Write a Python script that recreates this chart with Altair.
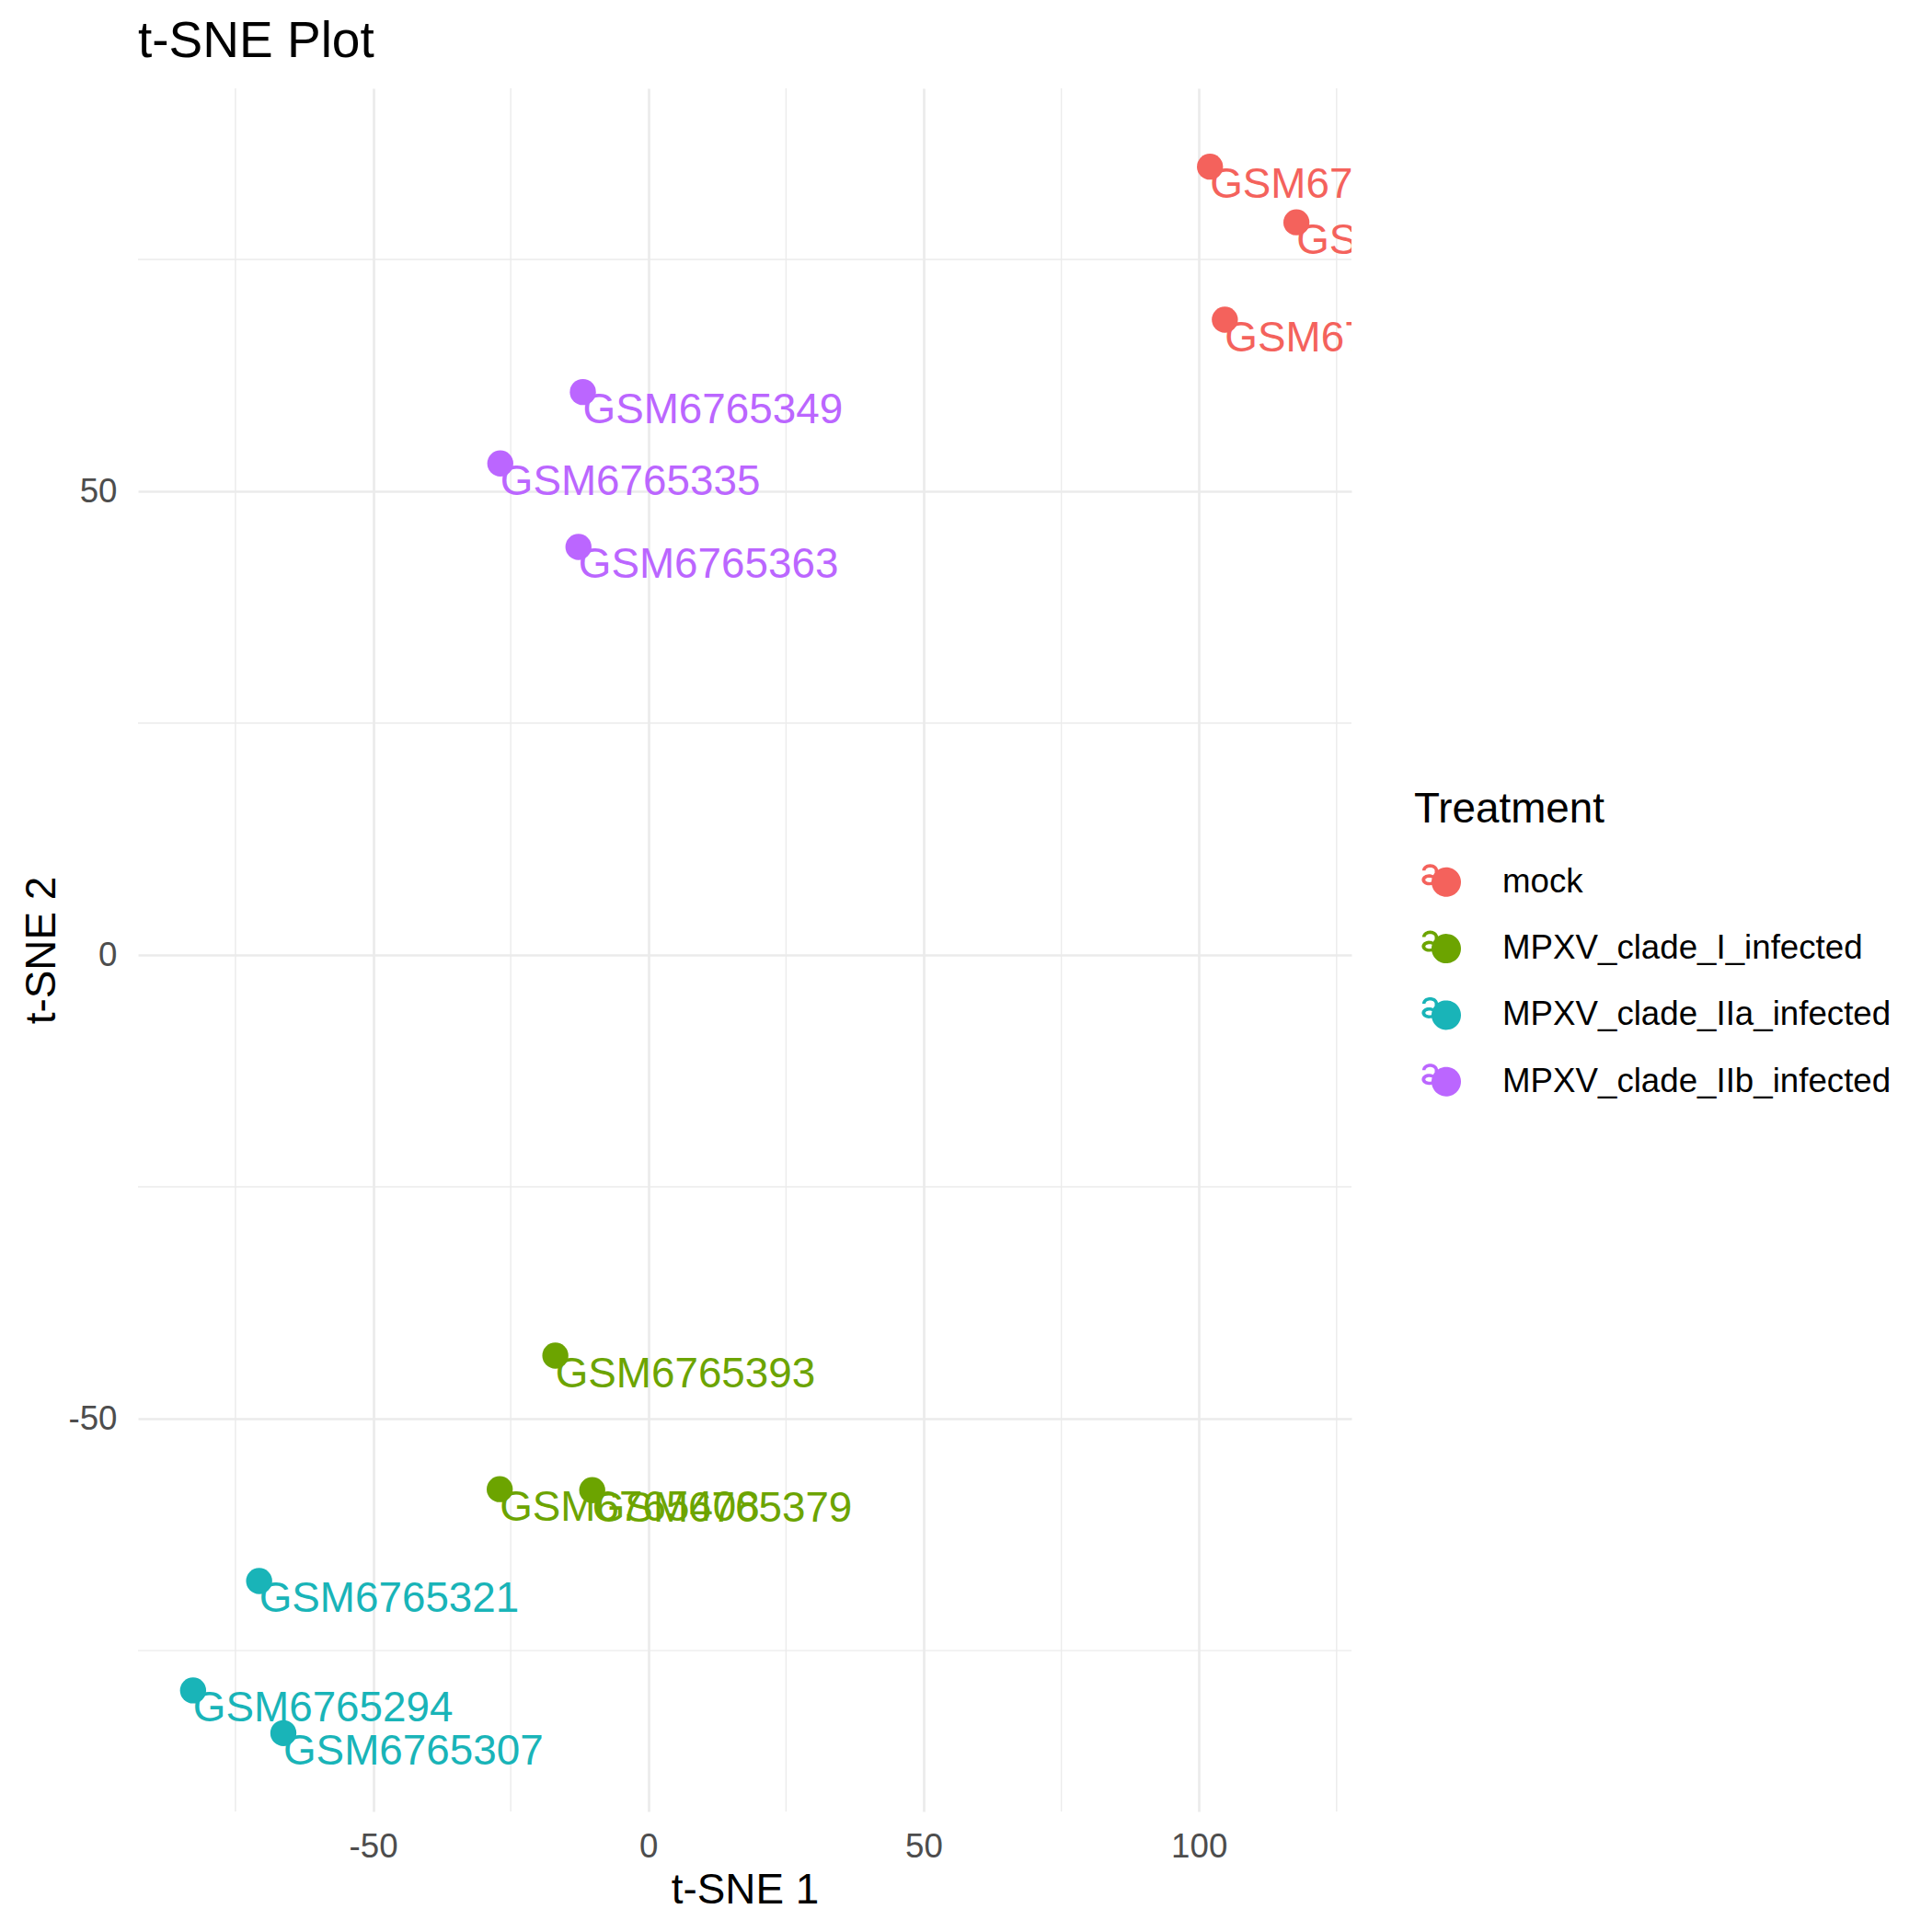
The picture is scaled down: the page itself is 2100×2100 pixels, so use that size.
import altair as alt
import numpy as np
import pandas as pd

# ---------------- data ----------------
samples = ["GSM6765421", "GSM6765435", "GSM6765449",
           "GSM6765349", "GSM6765335", "GSM6765363",
           "GSM6765393", "GSM6765408", "GSM6765379",
           "GSM6765321", "GSM6765294", "GSM6765307"]
treatment = ["mock", "mock", "mock",
             "MPXV_clade_IIb_infected", "MPXV_clade_IIb_infected", "MPXV_clade_IIb_infected",
             "MPXV_clade_I_infected", "MPXV_clade_I_infected", "MPXV_clade_I_infected",
             "MPXV_clade_IIa_infected", "MPXV_clade_IIa_infected", "MPXV_clade_IIa_infected"]
tsne1 = [102.0, 117.7, 104.7,
         -11.9, -26.9, -12.7,
         -16.9, -27.0, -10.2,
         -70.7, -82.7, -66.3]
tsne2 = [85.0, 79.0, 68.5,
         60.7, 53.0, 44.0,
         -43.2, -57.6, -57.7,
         -67.5, -79.3, -83.9]

categories = ["mock", "MPXV_clade_I_infected", "MPXV_clade_IIa_infected", "MPXV_clade_IIb_infected"]
colors = ["#F4625C", "#6CA400", "#19B4B8", "#BB66FF"]

x_major = [-50, 0, 50, 100]
y_major = [-50, 0, 50]
x_minor = [-75, -25, 25, 75, 125]
y_minor = [-75, -25, 25, 75]

df = pd.DataFrame({"sample": samples, "Treatment": treatment, "t1": tsne1, "t2": tsne2})

# ---------------- legend key glyph ("a" + dot) as a custom symbol path ----------------
U = 20.0  # px per symbol unit (symbolSize 1600 -> sqrt/2 = 20)


def ell(cx, cy, rx, ry, a0, a1, n):
    t = np.linspace(a0, a1, n)
    return [(cx + rx * np.cos(v), cy + ry * np.sin(v)) for v in t]


def sarea(p):
    return 0.5 * sum(p[i][0] * p[(i + 1) % len(p)][1] - p[(i + 1) % len(p)][0] * p[i][1] for i in range(len(p)))


def orient(p, positive=True):
    return p if (sarea(p) > 0) == positive else p[::-1]


def rect(x0, x1, y0, y1):
    return [(x0, y0), (x1, y0), (x1, y1), (x0, y1)]


ax_, ay_ = -2.0, -8.0
shapes = []
shapes.append(orient(ell(15, 0, 16, 16, 0, 2 * np.pi, 60)[:-1]))
outer = ell(ax_ - 0.5, ay_ - 4.5, 8.6, 7.0, np.pi, 2 * np.pi, 30)
inner = ell(ax_ - 0.5, ay_ - 4.5, 5.0, 3.4, np.pi, 2 * np.pi, 30)[::-1]
shapes.append(orient(outer + inner))
shapes.append(orient(rect(ax_ + 4.5, ax_ + 8.1, ay_ - 4.5, ay_ + 11.5)))
shapes.append(orient(rect(ax_ + 7.3, ax_ + 9.8, ay_ + 8.8, ay_ + 11.5)))
shapes.append(orient(ell(ax_ - 1.6, ay_ + 5.5, 8.0, 6.0, 0, 2 * np.pi, 40)[:-1]))
shapes.append(orient(ell(ax_ - 1.3, ay_ + 5.6, 4.4, 2.5, 0, 2 * np.pi, 30)[:-1], positive=False))

key_path = " ".join(
    "M" + " L".join(f"{x / U:.3f},{y / U:.3f}" for x, y in s) + " Z" for s in shapes
)

# ---------------- chart ----------------
FONT = "Liberation Sans"
xscale = alt.Scale(domain=[-92.7, 127.7], nice=False, zero=False)
yscale = alt.Scale(domain=[-92.35, 93.45], nice=False, zero=False)
cscale = alt.Scale(domain=categories, range=colors)

legend = alt.Legend(
    title="Treatment", orient="none", legendX=1387, legendY=762, padding=0, offset=0,
    titleFont=FONT, titleFontSize=45.8, titleFontWeight="normal", titleColor="black",
    titlePadding=35, titleLimit=2000,
    labelFont=FONT, labelFontSize=36.7, labelColor="black", labelOffset=56, labelLimit=2000,
    symbolType=key_path, symbolSize=1600, symbolStrokeWidth=0, symbolOpacity=1,
    rowPadding=33.3,
)

xaxis = alt.Axis(values=x_major, title="t-SNE 1", grid=True, gridColor="#EBEBEB", gridWidth=2.7,
                 domain=False, ticks=False, tickSize=0, labelPadding=20,
                 labelExpr="'' + datum.value",
                 labelFont=FONT, labelFontSize=36.7, labelColor="#4D4D4D",
                 titleFont=FONT, titleFontSize=45.8, titleFontWeight="normal", titleColor="black",
                 titlePadding=7)
yaxis = alt.Axis(values=y_major, title="t-SNE 2", grid=True, gridColor="#EBEBEB", gridWidth=2.7,
                 domain=False, ticks=False, tickSize=0, labelPadding=23,
                 labelExpr="'' + datum.value",
                 labelFont=FONT, labelFontSize=36.7, labelColor="#4D4D4D",
                 titleFont=FONT, titleFontSize=45.8, titleFontWeight="normal", titleColor="black",
                 titlePadding=4)

minor_x = alt.Chart(pd.DataFrame({"v": x_minor})).mark_rule(color="#EBEBEB", strokeWidth=1.4).encode(
    x=alt.X("v:Q", scale=xscale, axis=xaxis)
)
minor_y = alt.Chart(pd.DataFrame({"v": y_minor})).mark_rule(color="#EBEBEB", strokeWidth=1.4).encode(
    y=alt.Y("v:Q", scale=yscale, axis=yaxis)
)

base = alt.Chart(df).encode(
    x=alt.X("t1:Q", scale=xscale, axis=xaxis),
    y=alt.Y("t2:Q", scale=yscale, axis=yaxis),
    color=alt.Color("Treatment:N", scale=cscale, legend=legend),
)
points = base.mark_circle(size=804, opacity=1)
labels = base.mark_text(align="left", baseline="alphabetic", dx=0, dy=34,
                        font=FONT, fontSize=45.8, clip=True).encode(text="sample:N")

chart = alt.layer(minor_x, minor_y, points, labels).properties(
    width=1319, height=1873,
    autosize=alt.AutoSizeParams(type="none"),
    padding={"left": 150, "top": 96, "right": 631, "bottom": 131},
    title=alt.TitleParams("t-SNE Plot", anchor="start", frame="group", fontSize=55, font=FONT,
                          fontWeight="normal", color="black", offset=21),
).configure(background="white").configure_view(stroke=None, strokeWidth=0)

chart.save("out.html", embed_options={"renderer": "svg", "actions": False})
